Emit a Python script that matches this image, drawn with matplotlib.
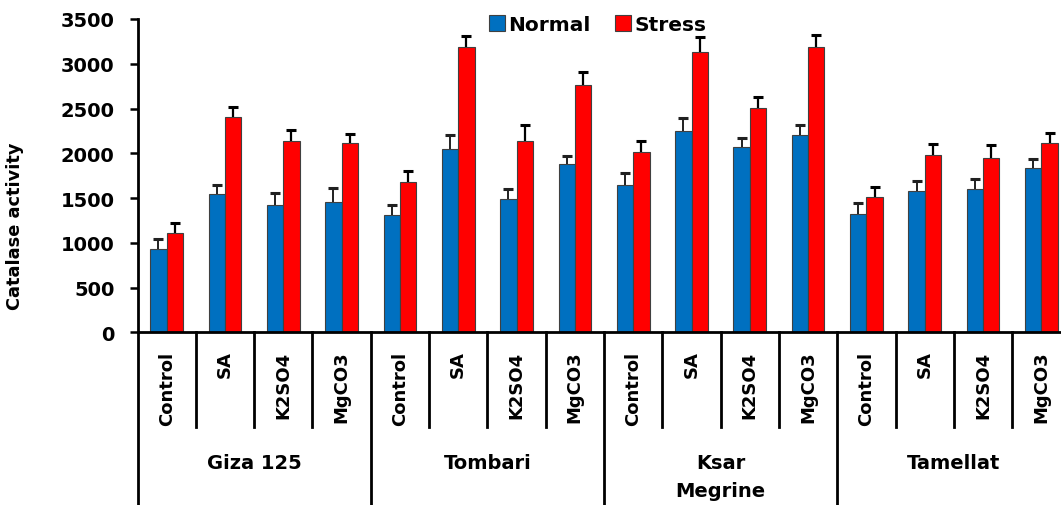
"""Catalase activity under normal and stress conditions, grouped by cultivar."""

import matplotlib.pyplot as plt
import numpy as np
from matplotlib.patches import Patch

groups = ["Giza 125", "Tombari", "Ksar\nMegrine", "Tamellat"]
treatments = ["Control", "SA", "K2SO4", "MgCO3"]

normal = [930, 1540, 1420, 1460, 1315, 2050, 1485, 1875, 1645, 2250, 2070, 2205, 1325, 1580, 1605, 1830]
normal_err = [115, 110, 140, 155, 110, 155, 120, 100, 135, 140, 105, 110, 120, 105, 110, 110]
stress = [1110, 2410, 2135, 2110, 1680, 3185, 2135, 2760, 2010, 3130, 2505, 3185, 1510, 1985, 1945, 2120]
stress_err = [110, 105, 125, 110, 125, 130, 180, 145, 130, 165, 120, 140, 115, 120, 150, 110]

BLUE = "#0070C0"
RED = "#FF0000"
EDGE = "#404040"

plt.rcParams["font.family"] = "DejaVu Sans"
plt.rcParams["font.weight"] = "bold"

fig = plt.figure(figsize=(10.61, 5.06), dpi=100)
ax = fig.add_axes([0.1296, 0.3413, 0.8794, 0.6192])

n_sub = len(treatments)
n_cat = len(groups) * n_sub
x = np.arange(n_cat) + 0.5
width = 0.28

ax.bar(x - width / 2, normal, width, color=BLUE, edgecolor=EDGE, linewidth=0.8, zorder=2)
ax.bar(x + width / 2, stress, width, color=RED, edgecolor=EDGE, linewidth=0.8, zorder=2)

# upper error bars only: hide the cap drawn at the bar top
zeros = np.zeros(n_cat)
for xs, vals, err, col, lw in [(x - width / 2, normal, normal_err, "#202020", 1.4),
                               (x + width / 2, stress, stress_err, "black", 1.6)]:
    _, caps, _ = ax.errorbar(xs, vals, yerr=[zeros, err], fmt="none", ecolor=col,
                             elinewidth=lw, capsize=3.8, capthick=2.2, zorder=3)
    caps[0].set_visible(False)

ax.set_xlim(0, n_cat)
ax.set_ylim(0, 3500)
ax.set_yticks(np.arange(0, 3501, 500))
ax.tick_params(axis="y", direction="out", length=5.5, width=1.8, pad=11, labelsize=14)
ax.set_xticks([])
for side in ("top", "right"):
    ax.spines[side].set_visible(False)
ax.spines["left"].set_linewidth(2)
ax.spines["bottom"].set_linewidth(2)

ax.set_ylabel("Catalase activity", fontsize=12.8, fontweight="bold")
ax.yaxis.set_label_coords(-0.1217, 0.342)

# multi-level category axis below the plot
trans = ax.get_xaxis_transform()
for i in range(n_cat + 1):
    bottom = -0.56 if i % n_sub == 0 else -0.302
    ax.plot([i, i], [0, bottom], color="black", lw=2, transform=trans, clip_on=False)

for i in range(n_cat):
    ax.text(i + 0.5, -0.058, treatments[i % n_sub], transform=trans, rotation=90,
            ha="center", va="top", fontsize=13, fontweight="bold")

for g, name in enumerate(groups):
    ax.text(g * n_sub + n_sub / 2, -0.3837, name, transform=trans, ha="center", va="top",
            fontsize=14, fontweight="bold", linespacing=1.65, multialignment="center")

handles = [Patch(facecolor=BLUE, edgecolor=EDGE, linewidth=0.8),
           Patch(facecolor=RED, edgecolor=EDGE, linewidth=0.8)]
fig.legend(handles, ["Normal", "Stress"], loc="center", bbox_to_anchor=(0.5634, 0.9496),
           ncol=2, frameon=False, fontsize=14.5, handlelength=0.8, handleheight=0.8,
           handletextpad=0.17, columnspacing=1.2, borderpad=0)

fig.savefig("out.png", dpi=100)
